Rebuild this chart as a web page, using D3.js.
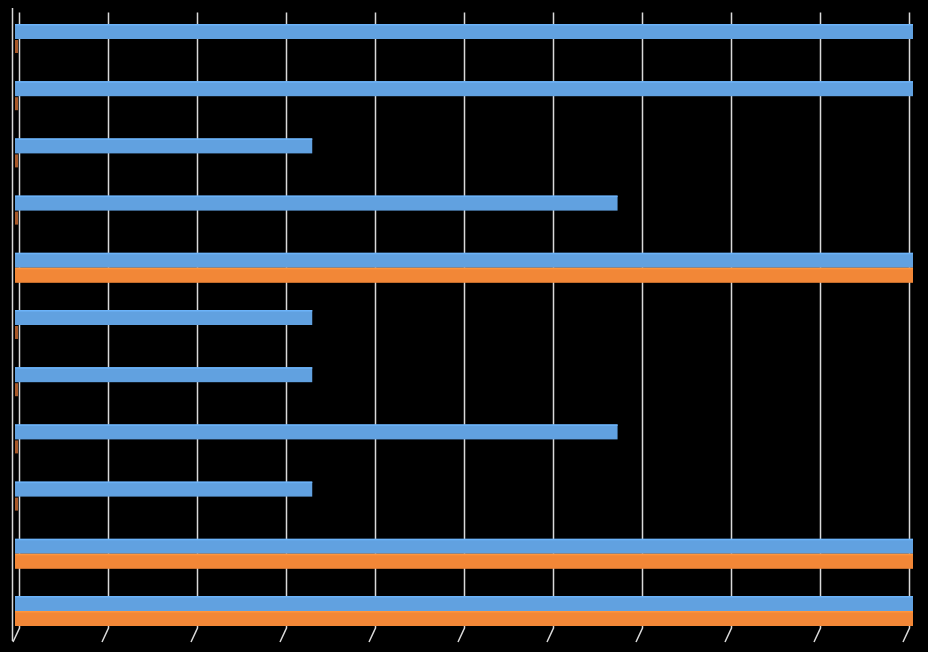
<!DOCTYPE html>
<html>
<head>
<meta charset="utf-8">
<script src="https://cdn.jsdelivr.net/npm/d3@7"></script>
<style>
  html, body { margin: 0; padding: 0; background: #000; }
  svg { display: block; }
</style>
</head>
<body>
<svg id="chart" width="928" height="652"></svg>
<script>
// ---- data ----
const categories = ["1", "2", "3", "4", "5", "6", "7", "8", "9", "10", "11"];
const seriesNames = ["Series 1", "Series 2"];
const series1 = [1, 1, 0.331, 0.671, 1, 0.331, 0.331, 0.671, 0.331, 1, 1];
const series2 = [0, 0, 0, 0, 1, 0, 0, 0, 0, 1, 1];
const tickValues = [0, 0.1, 0.2, 0.3, 0.4, 0.5, 0.6, 0.7, 0.8, 0.9, 1];
const colors = ["#61a1e0", "#f28737"];
const sideColors = ["#3f78ad", "#a8592a"];

const svg = d3.select("#chart");
svg.append("rect").attr("width", 928).attr("height", 652).attr("fill", "#000");

// front plane (bars) and back plane (gridlines) scales of the 3D chart
const xFront = d3.scaleLinear().domain([0, 1]).range([15, 913]);
const xBack = d3.scaleLinear().domain([0, 1]).range([19.5, 909.5]);
const y = d3.scaleBand().domain(categories).range([24, 626]).paddingInner(0.4755).paddingOuter(0);
const ySub = d3.scaleBand().domain(seriesNames).range([0, y.bandwidth()]);

const gridTop = 12.5, gridBottom = 628, floorDx = -6.5, floorDy = 14;

// left wall front edge
svg.append("line")
  .attr("x1", 12.5).attr("x2", 12.5)
  .attr("y1", 8).attr("y2", gridBottom + floorDy - 1)
  .attr("stroke", "#d9d9d9").attr("stroke-width", 1.5);

// gridlines + floor ticks
const grid = svg.append("g");
grid.selectAll("path").data(tickValues).join("path")
  .attr("d", d => {
    const x = xBack(d);
    return `M${x},${gridTop}L${x},${gridBottom}L${x + floorDx},${gridBottom + floorDy}`;
  })
  .attr("fill", "none")
  .attr("stroke", "#d9d9d9")
  .attr("stroke-width", 1.5);

// bars
const rows = categories.map((c, i) => ({ c, vals: [series1[i], series2[i]] }));
const g = svg.append("g");
rows.forEach(r => {
  r.vals.forEach((v, si) => {
    const y0 = y(r.c) + ySub(seriesNames[si]);
    const h = ySub.bandwidth();
    if (v === 0) {
      // zero-value bar: only its 3D end face is visible
      g.append("rect")
        .attr("x", xFront(0)).attr("y", y0 + 1)
        .attr("width", 3).attr("height", h - 2)
        .attr("fill", sideColors[si]);
    } else {
      g.append("rect")
        .attr("x", xFront(0)).attr("y", y0)
        .attr("width", xFront(v) - xFront(0)).attr("height", h)
        .attr("fill", colors[si]);
      g.append("rect")
        .attr("x", xFront(0)).attr("y", y0)
        .attr("width", xFront(v) - xFront(0)).attr("height", 1.5)
        .attr("fill", d3.color(colors[si]).brighter(0.3));
    }
  });
});
</script>
</body>
</html>
